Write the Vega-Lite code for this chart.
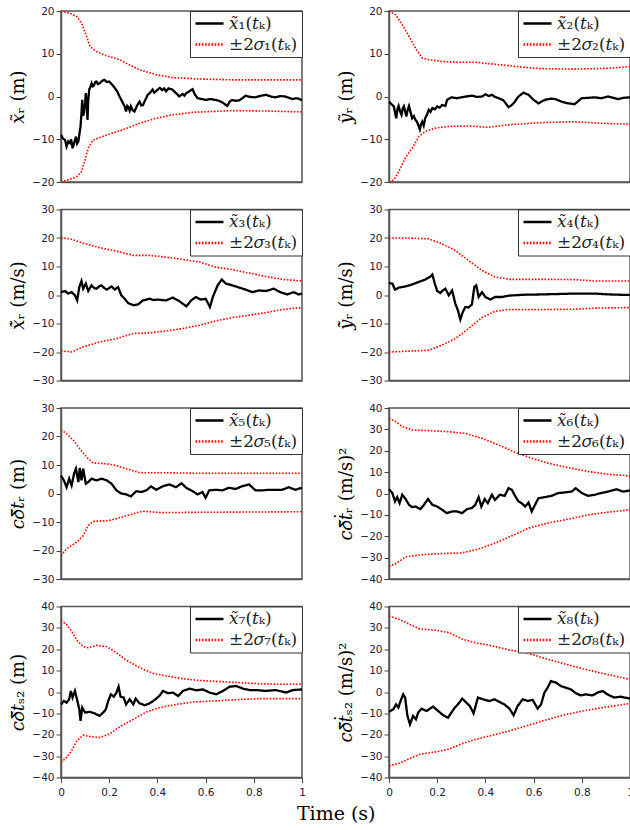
{
"$schema":"https://vega.github.io/schema/vega-lite/v6.json",
"padding":{"left":9,"top":5,"right":0,"bottom":4},
"background":"white",
"title":{"text":"Time (s)","orient":"bottom","anchor":"middle","font":"DejaVu Serif","fontSize":19,"fontWeight":"normal","color":"#000","offset":6,"dx":14},
"columns":2,
"spacing":{"row":27.5,"column":87},
"bounds":"flush",
"resolve":{"scale":{"color":"independent","strokeDash":"independent"}},
"datasets":{
"err":[
{"p":1,"t":0,"v":-9},{"p":1,"t":0.008,"v":-9.8},{"p":1,"t":0.017,"v":-10.2},{"p":1,"t":0.023,"v":-11.7},{"p":1,"t":0.03,"v":-10.5},{"p":1,"t":0.037,"v":-10.9},{"p":1,"t":0.042,"v":-10},{"p":1,"t":0.048,"v":-12.1},{"p":1,"t":0.055,"v":-10.8},{"p":1,"t":0.062,"v":-9.4},{"p":1,"t":0.067,"v":-11},{"p":1,"t":0.072,"v":-10.5},{"p":1,"t":0.081,"v":-7},{"p":1,"t":0.085,"v":-4},{"p":1,"t":0.088,"v":-0.8},{"p":1,"t":0.092,"v":-4.5},{"p":1,"t":0.095,"v":-3.9},{"p":1,"t":0.1,"v":-1.5},{"p":1,"t":0.103,"v":0.8},{"p":1,"t":0.107,"v":-2},{"p":1,"t":0.11,"v":-5.5},{"p":1,"t":0.113,"v":-1},{"p":1,"t":0.117,"v":1.6},{"p":1,"t":0.122,"v":2.2},{"p":1,"t":0.127,"v":3.1},{"p":1,"t":0.132,"v":2.4},{"p":1,"t":0.137,"v":2.6},{"p":1,"t":0.142,"v":3.4},{"p":1,"t":0.147,"v":3.5},{"p":1,"t":0.153,"v":2.9},{"p":1,"t":0.16,"v":3.1},{"p":1,"t":0.17,"v":3.6},{"p":1,"t":0.18,"v":3.9},{"p":1,"t":0.19,"v":3.4},{"p":1,"t":0.2,"v":3.5},{"p":1,"t":0.212,"v":2.8},{"p":1,"t":0.223,"v":2},{"p":1,"t":0.233,"v":1.2},{"p":1,"t":0.243,"v":0},{"p":1,"t":0.254,"v":-1.2},{"p":1,"t":0.264,"v":-2.3},{"p":1,"t":0.27,"v":-3.5},{"p":1,"t":0.275,"v":-2.2},{"p":1,"t":0.28,"v":-2.5},{"p":1,"t":0.285,"v":-3.3},{"p":1,"t":0.29,"v":-2.3},{"p":1,"t":0.297,"v":-3.2},{"p":1,"t":0.305,"v":-3.5},{"p":1,"t":0.315,"v":-2.2},{"p":1,"t":0.326,"v":-1.2},{"p":1,"t":0.333,"v":-2.1},{"p":1,"t":0.34,"v":-2},{"p":1,"t":0.35,"v":-0.8},{"p":1,"t":0.36,"v":0.4},{"p":1,"t":0.37,"v":0.9},{"p":1,"t":0.38,"v":1.6},{"p":1,"t":0.387,"v":0.9},{"p":1,"t":0.395,"v":1.3},{"p":1,"t":0.41,"v":2},{"p":1,"t":0.42,"v":1.5},{"p":1,"t":0.428,"v":1.9},{"p":1,"t":0.436,"v":1.2},{"p":1,"t":0.446,"v":1.9},{"p":1,"t":0.46,"v":1.7},{"p":1,"t":0.475,"v":0.9},{"p":1,"t":0.483,"v":0.5},{"p":1,"t":0.49,"v":0},{"p":1,"t":0.505,"v":0.6},{"p":1,"t":0.512,"v":0.2},{"p":1,"t":0.52,"v":0.8},{"p":1,"t":0.535,"v":1.3},{"p":1,"t":0.546,"v":1.7},{"p":1,"t":0.555,"v":0.5},{"p":1,"t":0.567,"v":-0.4},{"p":1,"t":0.585,"v":-0.6},{"p":1,"t":0.6,"v":-0.8},{"p":1,"t":0.62,"v":-0.6},{"p":1,"t":0.64,"v":-0.8},{"p":1,"t":0.655,"v":-1},{"p":1,"t":0.67,"v":-1.4},{"p":1,"t":0.69,"v":-2.2},{"p":1,"t":0.7,"v":-1.2},{"p":1,"t":0.71,"v":-0.8},{"p":1,"t":0.725,"v":-1},{"p":1,"t":0.74,"v":-0.9},{"p":1,"t":0.755,"v":-0.3},{"p":1,"t":0.766,"v":0.2},{"p":1,"t":0.785,"v":-0.1},{"p":1,"t":0.807,"v":-0.2},{"p":1,"t":0.825,"v":0.1},{"p":1,"t":0.85,"v":0.4},{"p":1,"t":0.87,"v":0},{"p":1,"t":0.89,"v":-0.2},{"p":1,"t":0.91,"v":0.1},{"p":1,"t":0.93,"v":0},{"p":1,"t":0.945,"v":-0.3},{"p":1,"t":0.96,"v":-0.6},{"p":1,"t":0.975,"v":-0.4},{"p":1,"t":0.986,"v":-0.5},{"p":1,"t":1,"v":-0.9},
{"p":2,"t":0,"v":-1.2},{"p":2,"t":0.01,"v":-1.8},{"p":2,"t":0.02,"v":-2.3},{"p":2,"t":0.03,"v":-5.1},{"p":2,"t":0.035,"v":-3},{"p":2,"t":0.04,"v":-2.2},{"p":2,"t":0.046,"v":-3.5},{"p":2,"t":0.052,"v":-4.3},{"p":2,"t":0.057,"v":-2.8},{"p":2,"t":0.062,"v":-2.3},{"p":2,"t":0.072,"v":-4.7},{"p":2,"t":0.078,"v":-3},{"p":2,"t":0.083,"v":-2.2},{"p":2,"t":0.09,"v":-3.8},{"p":2,"t":0.096,"v":-5.1},{"p":2,"t":0.103,"v":-4.6},{"p":2,"t":0.11,"v":-5.5},{"p":2,"t":0.116,"v":-5.9},{"p":2,"t":0.121,"v":-6.6},{"p":2,"t":0.128,"v":-7.7},{"p":2,"t":0.133,"v":-6.5},{"p":2,"t":0.138,"v":-5.9},{"p":2,"t":0.144,"v":-6.8},{"p":2,"t":0.15,"v":-5.1},{"p":2,"t":0.158,"v":-4.2},{"p":2,"t":0.165,"v":-3.1},{"p":2,"t":0.172,"v":-3.6},{"p":2,"t":0.18,"v":-2.7},{"p":2,"t":0.19,"v":-3},{"p":2,"t":0.2,"v":-2.3},{"p":2,"t":0.21,"v":-2.6},{"p":2,"t":0.22,"v":-2},{"p":2,"t":0.234,"v":-2.2},{"p":2,"t":0.241,"v":-0.8},{"p":2,"t":0.26,"v":-0.2},{"p":2,"t":0.28,"v":-0.4},{"p":2,"t":0.3,"v":-0.2},{"p":2,"t":0.32,"v":0},{"p":2,"t":0.344,"v":0.2},{"p":2,"t":0.365,"v":-0.1},{"p":2,"t":0.386,"v":0},{"p":2,"t":0.4,"v":0.5},{"p":2,"t":0.415,"v":0.1},{"p":2,"t":0.427,"v":0.4},{"p":2,"t":0.44,"v":-0.1},{"p":2,"t":0.455,"v":-0.4},{"p":2,"t":0.475,"v":-0.9},{"p":2,"t":0.496,"v":-2.5},{"p":2,"t":0.507,"v":-2.1},{"p":2,"t":0.517,"v":-1.6},{"p":2,"t":0.537,"v":0},{"p":2,"t":0.558,"v":0.9},{"p":2,"t":0.57,"v":0.6},{"p":2,"t":0.579,"v":0.4},{"p":2,"t":0.6,"v":-0.8},{"p":2,"t":0.62,"v":-1.6},{"p":2,"t":0.635,"v":-1.1},{"p":2,"t":0.647,"v":-0.8},{"p":2,"t":0.67,"v":-0.5},{"p":2,"t":0.69,"v":-0.6},{"p":2,"t":0.716,"v":-1.2},{"p":2,"t":0.744,"v":-1.6},{"p":2,"t":0.77,"v":-1.8},{"p":2,"t":0.785,"v":-1.1},{"p":2,"t":0.8,"v":-0.4},{"p":2,"t":0.83,"v":-0.3},{"p":2,"t":0.854,"v":-0.2},{"p":2,"t":0.88,"v":-0.4},{"p":2,"t":0.91,"v":0},{"p":2,"t":0.93,"v":-0.3},{"p":2,"t":0.95,"v":-0.6},{"p":2,"t":0.975,"v":-0.3},{"p":2,"t":1,"v":-0.2},
{"p":3,"t":0,"v":1},{"p":3,"t":0.017,"v":1.4},{"p":3,"t":0.03,"v":0.5},{"p":3,"t":0.044,"v":1},{"p":3,"t":0.058,"v":-0.1},{"p":3,"t":0.067,"v":-1.9},{"p":3,"t":0.076,"v":2.8},{"p":3,"t":0.085,"v":4.9},{"p":3,"t":0.092,"v":2.2},{"p":3,"t":0.103,"v":4},{"p":3,"t":0.113,"v":1.4},{"p":3,"t":0.127,"v":3.4},{"p":3,"t":0.137,"v":2.5},{"p":3,"t":0.147,"v":2.2},{"p":3,"t":0.158,"v":3},{"p":3,"t":0.168,"v":3.4},{"p":3,"t":0.18,"v":2.4},{"p":3,"t":0.19,"v":1.9},{"p":3,"t":0.21,"v":3},{"p":3,"t":0.223,"v":1.9},{"p":3,"t":0.237,"v":2.8},{"p":3,"t":0.25,"v":-0.1},{"p":3,"t":0.264,"v":-1.3},{"p":3,"t":0.278,"v":-2.8},{"p":3,"t":0.3,"v":-3.6},{"p":3,"t":0.32,"v":-3.3},{"p":3,"t":0.34,"v":-1.9},{"p":3,"t":0.367,"v":-1.3},{"p":3,"t":0.385,"v":-1.8},{"p":3,"t":0.4,"v":-1.6},{"p":3,"t":0.436,"v":-1.9},{"p":3,"t":0.464,"v":-0.9},{"p":3,"t":0.49,"v":-2.1},{"p":3,"t":0.52,"v":-4},{"p":3,"t":0.54,"v":-1.9},{"p":3,"t":0.56,"v":-0.7},{"p":3,"t":0.58,"v":-1.6},{"p":3,"t":0.6,"v":-1.3},{"p":3,"t":0.618,"v":-4.2},{"p":3,"t":0.63,"v":-0.7},{"p":3,"t":0.65,"v":3.4},{"p":3,"t":0.667,"v":5.4},{"p":3,"t":0.684,"v":4},{"p":3,"t":0.71,"v":3.4},{"p":3,"t":0.74,"v":2.6},{"p":3,"t":0.766,"v":1.9},{"p":3,"t":0.794,"v":1},{"p":3,"t":0.82,"v":1.6},{"p":3,"t":0.85,"v":1.4},{"p":3,"t":0.883,"v":2.2},{"p":3,"t":0.91,"v":1},{"p":3,"t":0.938,"v":0.2},{"p":3,"t":0.966,"v":1},{"p":3,"t":0.986,"v":0.2},{"p":3,"t":1,"v":0.5},
{"p":4,"t":0,"v":4.2},{"p":4,"t":0.014,"v":4},{"p":4,"t":0.025,"v":1.9},{"p":4,"t":0.041,"v":2.6},{"p":4,"t":0.069,"v":3},{"p":4,"t":0.096,"v":3.7},{"p":4,"t":0.124,"v":4.6},{"p":4,"t":0.15,"v":5.4},{"p":4,"t":0.172,"v":6.5},{"p":4,"t":0.18,"v":7.2},{"p":4,"t":0.19,"v":4},{"p":4,"t":0.2,"v":1.4},{"p":4,"t":0.213,"v":0.7},{"p":4,"t":0.223,"v":1.6},{"p":4,"t":0.234,"v":2.2},{"p":4,"t":0.248,"v":-0.1},{"p":4,"t":0.262,"v":1.6},{"p":4,"t":0.275,"v":-3},{"p":4,"t":0.286,"v":-5.4},{"p":4,"t":0.296,"v":-8.6},{"p":4,"t":0.306,"v":-6},{"p":4,"t":0.317,"v":-4.2},{"p":4,"t":0.33,"v":-4.4},{"p":4,"t":0.344,"v":-3.3},{"p":4,"t":0.354,"v":2.8},{"p":4,"t":0.362,"v":3.4},{"p":4,"t":0.372,"v":-0.7},{"p":4,"t":0.386,"v":1},{"p":4,"t":0.4,"v":-0.7},{"p":4,"t":0.42,"v":-1.6},{"p":4,"t":0.44,"v":-0.7},{"p":4,"t":0.468,"v":-0.7},{"p":4,"t":0.5,"v":-0.2},{"p":4,"t":0.565,"v":0.1},{"p":4,"t":0.634,"v":0.2},{"p":4,"t":0.77,"v":0.5},{"p":4,"t":0.854,"v":0.5},{"p":4,"t":0.91,"v":0.2},{"p":4,"t":1,"v":0},
{"p":5,"t":0,"v":6.3},{"p":5,"t":0.012,"v":4.6},{"p":5,"t":0.023,"v":2.2},{"p":5,"t":0.034,"v":5.2},{"p":5,"t":0.044,"v":2.8},{"p":5,"t":0.054,"v":6.9},{"p":5,"t":0.062,"v":8.7},{"p":5,"t":0.072,"v":4},{"p":5,"t":0.078,"v":9},{"p":5,"t":0.085,"v":4.6},{"p":5,"t":0.092,"v":8.7},{"p":5,"t":0.103,"v":3.4},{"p":5,"t":0.113,"v":4},{"p":5,"t":0.127,"v":5.2},{"p":5,"t":0.147,"v":4.6},{"p":5,"t":0.168,"v":5.2},{"p":5,"t":0.19,"v":4.6},{"p":5,"t":0.21,"v":3.4},{"p":5,"t":0.23,"v":1.1},{"p":5,"t":0.25,"v":0},{"p":5,"t":0.27,"v":-0.3},{"p":5,"t":0.29,"v":-1},{"p":5,"t":0.312,"v":0.8},{"p":5,"t":0.333,"v":0.5},{"p":5,"t":0.354,"v":1.1},{"p":5,"t":0.374,"v":2.5},{"p":5,"t":0.395,"v":1.3},{"p":5,"t":0.422,"v":2.5},{"p":5,"t":0.45,"v":3.2},{"p":5,"t":0.477,"v":2.2},{"p":5,"t":0.5,"v":3.6},{"p":5,"t":0.52,"v":2},{"p":5,"t":0.546,"v":0.8},{"p":5,"t":0.567,"v":-0.3},{"p":5,"t":0.587,"v":0.5},{"p":5,"t":0.6,"v":-1.5},{"p":5,"t":0.615,"v":1.1},{"p":5,"t":0.642,"v":1.3},{"p":5,"t":0.67,"v":1.1},{"p":5,"t":0.697,"v":2},{"p":5,"t":0.725,"v":1.6},{"p":5,"t":0.75,"v":2.5},{"p":5,"t":0.78,"v":3.2},{"p":5,"t":0.807,"v":1.1},{"p":5,"t":0.835,"v":1.1},{"p":5,"t":0.862,"v":1.3},{"p":5,"t":0.89,"v":1.3},{"p":5,"t":0.917,"v":1.3},{"p":5,"t":0.945,"v":2.2},{"p":5,"t":0.972,"v":1.3},{"p":5,"t":1,"v":2},
{"p":6,"t":0,"v":2},{"p":6,"t":0.014,"v":0.2},{"p":6,"t":0.025,"v":-3.7},{"p":6,"t":0.034,"v":-1.7},{"p":6,"t":0.044,"v":-4.5},{"p":6,"t":0.055,"v":-0.6},{"p":6,"t":0.069,"v":-2.6},{"p":6,"t":0.083,"v":-5.3},{"p":6,"t":0.096,"v":-6.4},{"p":6,"t":0.11,"v":-6.1},{"p":6,"t":0.13,"v":-7.3},{"p":6,"t":0.145,"v":-5.3},{"p":6,"t":0.162,"v":-2.6},{"p":6,"t":0.18,"v":-5.3},{"p":6,"t":0.2,"v":-6.1},{"p":6,"t":0.22,"v":-7.6},{"p":6,"t":0.24,"v":-9.2},{"p":6,"t":0.262,"v":-8.4},{"p":6,"t":0.282,"v":-8.4},{"p":6,"t":0.303,"v":-9.2},{"p":6,"t":0.324,"v":-7.3},{"p":6,"t":0.344,"v":-6.8},{"p":6,"t":0.358,"v":-5.3},{"p":6,"t":0.372,"v":-1.7},{"p":6,"t":0.383,"v":-6.1},{"p":6,"t":0.397,"v":-2.6},{"p":6,"t":0.41,"v":-4.5},{"p":6,"t":0.427,"v":-0.6},{"p":6,"t":0.44,"v":-3},{"p":6,"t":0.46,"v":-0.6},{"p":6,"t":0.48,"v":-1.1},{"p":6,"t":0.496,"v":2.5},{"p":6,"t":0.51,"v":1.7},{"p":6,"t":0.523,"v":-1.1},{"p":6,"t":0.537,"v":-3.7},{"p":6,"t":0.55,"v":-4.5},{"p":6,"t":0.565,"v":-6.1},{"p":6,"t":0.579,"v":-4.2},{"p":6,"t":0.592,"v":-8.4},{"p":6,"t":0.606,"v":-5.3},{"p":6,"t":0.62,"v":-2.2},{"p":6,"t":0.647,"v":-1.7},{"p":6,"t":0.675,"v":-1.1},{"p":6,"t":0.702,"v":0.2},{"p":6,"t":0.73,"v":0.5},{"p":6,"t":0.758,"v":0.9},{"p":6,"t":0.775,"v":2.5},{"p":6,"t":0.8,"v":0.2},{"p":6,"t":0.826,"v":-1.1},{"p":6,"t":0.854,"v":-0.6},{"p":6,"t":0.88,"v":0.2},{"p":6,"t":0.91,"v":0.9},{"p":6,"t":0.944,"v":2},{"p":6,"t":0.97,"v":0.9},{"p":6,"t":1,"v":1.4},
{"p":7,"t":0,"v":-5.8},{"p":7,"t":0.012,"v":-4.2},{"p":7,"t":0.023,"v":-5},{"p":7,"t":0.034,"v":-3.4},{"p":7,"t":0.041,"v":0.5},{"p":7,"t":0.048,"v":-2.6},{"p":7,"t":0.058,"v":0.5},{"p":7,"t":0.068,"v":-4.2},{"p":7,"t":0.076,"v":-8.1},{"p":7,"t":0.081,"v":-13.5},{"p":7,"t":0.088,"v":-7.3},{"p":7,"t":0.1,"v":-9.6},{"p":7,"t":0.12,"v":-9.3},{"p":7,"t":0.14,"v":-10},{"p":7,"t":0.16,"v":-11.2},{"p":7,"t":0.175,"v":-9.6},{"p":7,"t":0.186,"v":-8.1},{"p":7,"t":0.196,"v":-4.2},{"p":7,"t":0.207,"v":-1.1},{"p":7,"t":0.219,"v":-2.2},{"p":7,"t":0.23,"v":-0.3},{"p":7,"t":0.239,"v":2.5},{"p":7,"t":0.247,"v":-2.2},{"p":7,"t":0.26,"v":-2.6},{"p":7,"t":0.27,"v":-5.8},{"p":7,"t":0.285,"v":-3.4},{"p":7,"t":0.3,"v":-5.8},{"p":7,"t":0.31,"v":-3.1},{"p":7,"t":0.326,"v":-5.3},{"p":7,"t":0.348,"v":-6.2},{"p":7,"t":0.368,"v":-5.3},{"p":7,"t":0.389,"v":-3.7},{"p":7,"t":0.41,"v":-1.6},{"p":7,"t":0.423,"v":0.5},{"p":7,"t":0.444,"v":-0.6},{"p":7,"t":0.465,"v":-0.3},{"p":7,"t":0.486,"v":-1.9},{"p":7,"t":0.506,"v":0.5},{"p":7,"t":0.534,"v":1.6},{"p":7,"t":0.561,"v":0.8},{"p":7,"t":0.589,"v":1.2},{"p":7,"t":0.617,"v":-0.3},{"p":7,"t":0.644,"v":-1.1},{"p":7,"t":0.672,"v":0.5},{"p":7,"t":0.7,"v":2.5},{"p":7,"t":0.727,"v":2.8},{"p":7,"t":0.755,"v":1.6},{"p":7,"t":0.782,"v":0.9},{"p":7,"t":0.81,"v":0.9},{"p":7,"t":0.85,"v":0.5},{"p":7,"t":0.892,"v":0.9},{"p":7,"t":0.934,"v":-0.3},{"p":7,"t":0.961,"v":0.9},{"p":7,"t":1,"v":1.2},
{"p":8,"t":0,"v":-9.3},{"p":8,"t":0.018,"v":-8.1},{"p":8,"t":0.029,"v":-5.8},{"p":8,"t":0.039,"v":-7.3},{"p":8,"t":0.048,"v":-4.2},{"p":8,"t":0.059,"v":-1.1},{"p":8,"t":0.067,"v":-2.6},{"p":8,"t":0.076,"v":-10.9},{"p":8,"t":0.087,"v":-15.1},{"p":8,"t":0.1,"v":-11.2},{"p":8,"t":0.112,"v":-12.8},{"p":8,"t":0.121,"v":-9.6},{"p":8,"t":0.135,"v":-7.8},{"p":8,"t":0.156,"v":-8.9},{"p":8,"t":0.183,"v":-6.8},{"p":8,"t":0.204,"v":-8.9},{"p":8,"t":0.225,"v":-10.9},{"p":8,"t":0.245,"v":-12},{"p":8,"t":0.259,"v":-9.6},{"p":8,"t":0.273,"v":-7.3},{"p":8,"t":0.286,"v":-5.8},{"p":8,"t":0.304,"v":-3.1},{"p":8,"t":0.321,"v":-5},{"p":8,"t":0.335,"v":-6.5},{"p":8,"t":0.351,"v":-10},{"p":8,"t":0.369,"v":-2.6},{"p":8,"t":0.39,"v":-3.4},{"p":8,"t":0.417,"v":-4.2},{"p":8,"t":0.438,"v":-3.4},{"p":8,"t":0.459,"v":-4.7},{"p":8,"t":0.479,"v":-5.8},{"p":8,"t":0.5,"v":-7.8},{"p":8,"t":0.517,"v":-10.9},{"p":8,"t":0.534,"v":-6.5},{"p":8,"t":0.555,"v":-3.4},{"p":8,"t":0.576,"v":-4.2},{"p":8,"t":0.596,"v":-3.7},{"p":8,"t":0.617,"v":-7.8},{"p":8,"t":0.631,"v":-5.8},{"p":8,"t":0.645,"v":-0.3},{"p":8,"t":0.658,"v":2},{"p":8,"t":0.672,"v":5.1},{"p":8,"t":0.693,"v":4.4},{"p":8,"t":0.713,"v":2.8},{"p":8,"t":0.734,"v":2},{"p":8,"t":0.755,"v":1.2},{"p":8,"t":0.776,"v":-0.6},{"p":8,"t":0.796,"v":-1.6},{"p":8,"t":0.817,"v":-1.1},{"p":8,"t":0.844,"v":-1.6},{"p":8,"t":0.865,"v":-0.3},{"p":8,"t":0.886,"v":0.5},{"p":8,"t":0.906,"v":-1.1},{"p":8,"t":0.934,"v":-2.6},{"p":8,"t":0.961,"v":-2.2},{"p":8,"t":1,"v":-3.1}
],
"bnd":[
{"p":1,"s":"u","t":0,"v":20},{"p":1,"s":"u","t":0.04,"v":19.4},{"p":1,"s":"u","t":0.065,"v":18.7},{"p":1,"s":"u","t":0.085,"v":17.2},{"p":1,"s":"u","t":0.106,"v":14.1},{"p":1,"s":"u","t":0.12,"v":11.7},{"p":1,"s":"u","t":0.147,"v":10.5},{"p":1,"s":"u","t":0.19,"v":9.5},{"p":1,"s":"u","t":0.245,"v":8.6},{"p":1,"s":"u","t":0.27,"v":7.8},{"p":1,"s":"u","t":0.326,"v":6.25},{"p":1,"s":"u","t":0.395,"v":5.1},{"p":1,"s":"u","t":0.46,"v":4.45},{"p":1,"s":"u","t":0.57,"v":4.1},{"p":1,"s":"u","t":0.71,"v":3.9},{"p":1,"s":"u","t":1,"v":3.9},
{"p":1,"s":"l","t":0,"v":-20},{"p":1,"s":"l","t":0.04,"v":-19.3},{"p":1,"s":"l","t":0.065,"v":-18.75},{"p":1,"s":"l","t":0.085,"v":-17.6},{"p":1,"s":"l","t":0.1,"v":-14.8},{"p":1,"s":"l","t":0.113,"v":-12.1},{"p":1,"s":"l","t":0.133,"v":-10.2},{"p":1,"s":"l","t":0.19,"v":-9},{"p":1,"s":"l","t":0.257,"v":-7.8},{"p":1,"s":"l","t":0.326,"v":-6.25},{"p":1,"s":"l","t":0.395,"v":-5.1},{"p":1,"s":"l","t":0.46,"v":-4.3},{"p":1,"s":"l","t":0.546,"v":-3.7},{"p":1,"s":"l","t":0.71,"v":-3.3},{"p":1,"s":"l","t":0.85,"v":-3.4},{"p":1,"s":"l","t":1,"v":-3.6},
{"p":2,"s":"u","t":0,"v":20},{"p":2,"s":"u","t":0.028,"v":19.1},{"p":2,"s":"u","t":0.055,"v":16.8},{"p":2,"s":"u","t":0.083,"v":14.1},{"p":2,"s":"u","t":0.11,"v":11.3},{"p":2,"s":"u","t":0.138,"v":9},{"p":2,"s":"u","t":0.165,"v":8.6},{"p":2,"s":"u","t":0.22,"v":8.2},{"p":2,"s":"u","t":0.29,"v":8},{"p":2,"s":"u","t":0.36,"v":8},{"p":2,"s":"u","t":0.41,"v":7.7},{"p":2,"s":"u","t":0.5,"v":7.2},{"p":2,"s":"u","t":0.565,"v":6.8},{"p":2,"s":"u","t":0.634,"v":6.5},{"p":2,"s":"u","t":0.77,"v":6.4},{"p":2,"s":"u","t":0.91,"v":6.6},{"p":2,"s":"u","t":1,"v":7},
{"p":2,"s":"l","t":0,"v":-20},{"p":2,"s":"l","t":0.02,"v":-19.5},{"p":2,"s":"l","t":0.04,"v":-17.6},{"p":2,"s":"l","t":0.07,"v":-14.1},{"p":2,"s":"l","t":0.096,"v":-12.1},{"p":2,"s":"l","t":0.124,"v":-9.4},{"p":2,"s":"l","t":0.15,"v":-8.2},{"p":2,"s":"l","t":0.19,"v":-7.4},{"p":2,"s":"l","t":0.25,"v":-7},{"p":2,"s":"l","t":0.33,"v":-6.9},{"p":2,"s":"l","t":0.41,"v":-7.2},{"p":2,"s":"l","t":0.5,"v":-6.6},{"p":2,"s":"l","t":0.634,"v":-6.1},{"p":2,"s":"l","t":0.77,"v":-5.9},{"p":2,"s":"l","t":0.88,"v":-6.25},{"p":2,"s":"l","t":1,"v":-6.5},
{"p":3,"s":"u","t":0,"v":20.1},{"p":3,"s":"u","t":0.037,"v":19.7},{"p":3,"s":"u","t":0.092,"v":18.2},{"p":3,"s":"u","t":0.16,"v":16.6},{"p":3,"s":"u","t":0.23,"v":15.4},{"p":3,"s":"u","t":0.3,"v":13.9},{"p":3,"s":"u","t":0.367,"v":13.9},{"p":3,"s":"u","t":0.436,"v":13.3},{"p":3,"s":"u","t":0.505,"v":12.5},{"p":3,"s":"u","t":0.574,"v":11.6},{"p":3,"s":"u","t":0.642,"v":9.8},{"p":3,"s":"u","t":0.71,"v":8.9},{"p":3,"s":"u","t":0.78,"v":7.7},{"p":3,"s":"u","t":0.85,"v":6.5},{"p":3,"s":"u","t":0.917,"v":5.5},{"p":3,"s":"u","t":1,"v":4.9},
{"p":3,"s":"l","t":0,"v":-19.6},{"p":3,"s":"l","t":0.044,"v":-20},{"p":3,"s":"l","t":0.092,"v":-18.2},{"p":3,"s":"l","t":0.16,"v":-16.5},{"p":3,"s":"l","t":0.23,"v":-15.3},{"p":3,"s":"l","t":0.3,"v":-13.5},{"p":3,"s":"l","t":0.367,"v":-13.3},{"p":3,"s":"l","t":0.436,"v":-12.6},{"p":3,"s":"l","t":0.505,"v":-11.8},{"p":3,"s":"l","t":0.574,"v":-10.6},{"p":3,"s":"l","t":0.642,"v":-9.1},{"p":3,"s":"l","t":0.71,"v":-7.9},{"p":3,"s":"l","t":0.78,"v":-7.1},{"p":3,"s":"l","t":0.85,"v":-6.2},{"p":3,"s":"l","t":0.917,"v":-5.1},{"p":3,"s":"l","t":1,"v":-4.4},
{"p":4,"s":"u","t":0,"v":20},{"p":4,"s":"u","t":0.083,"v":20},{"p":4,"s":"u","t":0.165,"v":19.7},{"p":4,"s":"u","t":0.22,"v":18},{"p":4,"s":"u","t":0.275,"v":15.6},{"p":4,"s":"u","t":0.33,"v":12.1},{"p":4,"s":"u","t":0.386,"v":8.6},{"p":4,"s":"u","t":0.44,"v":6.3},{"p":4,"s":"u","t":0.5,"v":5.5},{"p":4,"s":"u","t":0.634,"v":5.5},{"p":4,"s":"u","t":0.77,"v":5.4},{"p":4,"s":"u","t":0.854,"v":4.9},{"p":4,"s":"u","t":1,"v":4.9},
{"p":4,"s":"l","t":0,"v":-20},{"p":4,"s":"l","t":0.165,"v":-19.4},{"p":4,"s":"l","t":0.22,"v":-17.6},{"p":4,"s":"l","t":0.275,"v":-15.3},{"p":4,"s":"l","t":0.33,"v":-11.8},{"p":4,"s":"l","t":0.386,"v":-7.9},{"p":4,"s":"l","t":0.44,"v":-5.7},{"p":4,"s":"l","t":0.5,"v":-5.1},{"p":4,"s":"l","t":0.634,"v":-5.1},{"p":4,"s":"l","t":0.77,"v":-5},{"p":4,"s":"l","t":0.854,"v":-4.6},{"p":4,"s":"l","t":1,"v":-4.4},
{"p":5,"s":"u","t":0,"v":22.4},{"p":5,"s":"u","t":0.023,"v":21},{"p":5,"s":"u","t":0.05,"v":18.8},{"p":5,"s":"u","t":0.078,"v":15.7},{"p":5,"s":"u","t":0.106,"v":12.8},{"p":5,"s":"u","t":0.133,"v":10.7},{"p":5,"s":"u","t":0.19,"v":10.4},{"p":5,"s":"u","t":0.23,"v":9.8},{"p":5,"s":"u","t":0.27,"v":8.7},{"p":5,"s":"u","t":0.326,"v":7.3},{"p":5,"s":"u","t":0.41,"v":7.3},{"p":5,"s":"u","t":0.574,"v":7.1},{"p":5,"s":"u","t":1,"v":7.1},
{"p":5,"s":"l","t":0,"v":-21.8},{"p":5,"s":"l","t":0.023,"v":-19.4},{"p":5,"s":"l","t":0.065,"v":-17.1},{"p":5,"s":"l","t":0.092,"v":-14.8},{"p":5,"s":"l","t":0.113,"v":-11.2},{"p":5,"s":"l","t":0.133,"v":-9.8},{"p":5,"s":"l","t":0.2,"v":-9.5},{"p":5,"s":"l","t":0.243,"v":-8.5},{"p":5,"s":"l","t":0.3,"v":-7.1},{"p":5,"s":"l","t":0.34,"v":-6.2},{"p":5,"s":"l","t":0.41,"v":-6.7},{"p":5,"s":"l","t":0.574,"v":-6.6},{"p":5,"s":"l","t":1,"v":-6.4},
{"p":6,"s":"u","t":0,"v":35.1},{"p":6,"s":"u","t":0.028,"v":33.6},{"p":6,"s":"u","t":0.055,"v":31.3},{"p":6,"s":"u","t":0.096,"v":29.7},{"p":6,"s":"u","t":0.165,"v":29.4},{"p":6,"s":"u","t":0.248,"v":28.9},{"p":6,"s":"u","t":0.317,"v":28.1},{"p":6,"s":"u","t":0.386,"v":25.8},{"p":6,"s":"u","t":0.455,"v":22.7},{"p":6,"s":"u","t":0.523,"v":19.3},{"p":6,"s":"u","t":0.592,"v":16.5},{"p":6,"s":"u","t":0.66,"v":14.2},{"p":6,"s":"u","t":0.744,"v":12.1},{"p":6,"s":"u","t":0.826,"v":10.3},{"p":6,"s":"u","t":0.91,"v":9},{"p":6,"s":"u","t":1,"v":8.2},
{"p":6,"s":"l","t":0,"v":-34.1},{"p":6,"s":"l","t":0.028,"v":-32.8},{"p":6,"s":"l","t":0.069,"v":-29.7},{"p":6,"s":"l","t":0.138,"v":-28.6},{"p":6,"s":"l","t":0.22,"v":-28.1},{"p":6,"s":"l","t":0.3,"v":-27.8},{"p":6,"s":"l","t":0.372,"v":-26},{"p":6,"s":"l","t":0.44,"v":-23.2},{"p":6,"s":"l","t":0.51,"v":-19.8},{"p":6,"s":"l","t":0.58,"v":-16.2},{"p":6,"s":"l","t":0.66,"v":-13.8},{"p":6,"s":"l","t":0.744,"v":-12},{"p":6,"s":"l","t":0.826,"v":-10},{"p":6,"s":"l","t":0.91,"v":-8.7},{"p":6,"s":"l","t":1,"v":-7.6},
{"p":7,"s":"u","t":0,"v":33.4},{"p":7,"s":"u","t":0.023,"v":31.6},{"p":7,"s":"u","t":0.044,"v":28.5},{"p":7,"s":"u","t":0.065,"v":24.3},{"p":7,"s":"u","t":0.092,"v":21.2},{"p":7,"s":"u","t":0.113,"v":20.7},{"p":7,"s":"u","t":0.147,"v":21.8},{"p":7,"s":"u","t":0.19,"v":21.2},{"p":7,"s":"u","t":0.23,"v":18.4},{"p":7,"s":"u","t":0.27,"v":14.9},{"p":7,"s":"u","t":0.326,"v":11.4},{"p":7,"s":"u","t":0.382,"v":8.7},{"p":7,"s":"u","t":0.437,"v":7.5},{"p":7,"s":"u","t":0.506,"v":6.2},{"p":7,"s":"u","t":0.575,"v":5.4},{"p":7,"s":"u","t":0.686,"v":4.7},{"p":7,"s":"u","t":0.796,"v":4},{"p":7,"s":"u","t":0.906,"v":3.6},{"p":7,"s":"u","t":1,"v":3.6},
{"p":7,"s":"l","t":0,"v":-33},{"p":7,"s":"l","t":0.023,"v":-30.6},{"p":7,"s":"l","t":0.044,"v":-27.5},{"p":7,"s":"l","t":0.065,"v":-22.9},{"p":7,"s":"l","t":0.092,"v":-20.2},{"p":7,"s":"l","t":0.12,"v":-20.8},{"p":7,"s":"l","t":0.16,"v":-21.3},{"p":7,"s":"l","t":0.2,"v":-19.8},{"p":7,"s":"l","t":0.244,"v":-16.2},{"p":7,"s":"l","t":0.3,"v":-12.8},{"p":7,"s":"l","t":0.355,"v":-9.3},{"p":7,"s":"l","t":0.41,"v":-7.3},{"p":7,"s":"l","t":0.479,"v":-5.8},{"p":7,"s":"l","t":0.548,"v":-4.7},{"p":7,"s":"l","t":0.63,"v":-4.2},{"p":7,"s":"l","t":0.713,"v":-3.7},{"p":7,"s":"l","t":0.823,"v":-3.1},{"p":7,"s":"l","t":1,"v":-3.1},
{"p":8,"s":"u","t":0,"v":35.5},{"p":8,"s":"u","t":0.045,"v":33.9},{"p":8,"s":"u","t":0.087,"v":31.6},{"p":8,"s":"u","t":0.128,"v":29.5},{"p":8,"s":"u","t":0.197,"v":28.9},{"p":8,"s":"u","t":0.25,"v":27.7},{"p":8,"s":"u","t":0.307,"v":24.6},{"p":8,"s":"u","t":0.362,"v":23},{"p":8,"s":"u","t":0.431,"v":21.5},{"p":8,"s":"u","t":0.5,"v":19.6},{"p":8,"s":"u","t":0.569,"v":18.4},{"p":8,"s":"u","t":0.638,"v":16},{"p":8,"s":"u","t":0.72,"v":13.4},{"p":8,"s":"u","t":0.803,"v":10.9},{"p":8,"s":"u","t":0.886,"v":8.7},{"p":8,"s":"u","t":1,"v":5.9},
{"p":8,"s":"l","t":0,"v":-34.5},{"p":8,"s":"l","t":0.045,"v":-33.3},{"p":8,"s":"l","t":0.087,"v":-31.1},{"p":8,"s":"l","t":0.128,"v":-29.1},{"p":8,"s":"l","t":0.197,"v":-28},{"p":8,"s":"l","t":0.25,"v":-26.7},{"p":8,"s":"l","t":0.307,"v":-24},{"p":8,"s":"l","t":0.362,"v":-22.1},{"p":8,"s":"l","t":0.431,"v":-20.2},{"p":8,"s":"l","t":0.5,"v":-18.2},{"p":8,"s":"l","t":0.569,"v":-15.9},{"p":8,"s":"l","t":0.638,"v":-13.5},{"p":8,"s":"l","t":0.72,"v":-10.9},{"p":8,"s":"l","t":0.803,"v":-8.9},{"p":8,"s":"l","t":0.886,"v":-7.3},{"p":8,"s":"l","t":1,"v":-5.4}
]
},
"concat":[
{"width":241,"height":171,
 "encoding":{
  "x":{"field":"t","type":"quantitative","scale":{"domain":[0,1],"nice":false},"axis":{"labels":false,"ticks":false,"title":null}},
  "y":{"field":"v","type":"quantitative","scale":{"domain":[-20,20],"nice":false},"axis":{"values":[-20,-10,0,10,20],"labelOverlap":false,"labelSeparation":0,"title":"𝑥̃ᵣ (m)"}}},
 "layer":[
 {"data":{"name":"bnd"},"transform":[{"filter":"datum.p==1"}],"mark":{"type":"line","strokeWidth":1.6},
  "encoding":{"detail":{"field":"s"},
   "color":{"datum":"b","type":"nominal","title":null,"scale":{"domain":["e","b"],"range":["#000000","#ff0000"]},"legend":{"labelExpr":"datum.value=='e'?'𝑥̃₁(𝑡ₖ)':'±2𝜎₁(𝑡ₖ)'"}},
   "strokeDash":{"datum":"b","type":"nominal","title":null,"scale":{"domain":["e","b"],"range":[[1,0],[1.6,1.6]]}}}},
 {"data":{"name":"err"},"transform":[{"filter":"datum.p==1"}],"mark":{"type":"line","strokeWidth":2.3},
  "encoding":{"color":{"datum":"e","type":"nominal"},"strokeDash":{"datum":"e","type":"nominal"}}}
]},
{"width":241,"height":171,
 "encoding":{
  "x":{"field":"t","type":"quantitative","scale":{"domain":[0,1],"nice":false},"axis":{"labels":false,"ticks":false,"title":null}},
  "y":{"field":"v","type":"quantitative","scale":{"domain":[-20,20],"nice":false},"axis":{"values":[-20,-10,0,10,20],"labelOverlap":false,"labelSeparation":0,"title":"𝑦̃ᵣ (m)"}}},
 "layer":[
 {"data":{"name":"bnd"},"transform":[{"filter":"datum.p==2"}],"mark":{"type":"line","strokeWidth":1.6},
  "encoding":{"detail":{"field":"s"},
   "color":{"datum":"b","type":"nominal","title":null,"scale":{"domain":["e","b"],"range":["#000000","#ff0000"]},"legend":{"labelExpr":"datum.value=='e'?'𝑥̃₂(𝑡ₖ)':'±2𝜎₂(𝑡ₖ)'"}},
   "strokeDash":{"datum":"b","type":"nominal","title":null,"scale":{"domain":["e","b"],"range":[[1,0],[1.6,1.6]]}}}},
 {"data":{"name":"err"},"transform":[{"filter":"datum.p==2"}],"mark":{"type":"line","strokeWidth":2.3},
  "encoding":{"color":{"datum":"e","type":"nominal"},"strokeDash":{"datum":"e","type":"nominal"}}}
]},
{"width":241,"height":171,
 "encoding":{
  "x":{"field":"t","type":"quantitative","scale":{"domain":[0,1],"nice":false},"axis":{"labels":false,"ticks":false,"title":null}},
  "y":{"field":"v","type":"quantitative","scale":{"domain":[-30,30],"nice":false},"axis":{"values":[-30,-20,-10,0,10,20,30],"labelOverlap":false,"labelSeparation":0,"title":"𝑥̇̃ᵣ (m/s)"}}},
 "layer":[
 {"data":{"name":"bnd"},"transform":[{"filter":"datum.p==3"}],"mark":{"type":"line","strokeWidth":1.6},
  "encoding":{"detail":{"field":"s"},
   "color":{"datum":"b","type":"nominal","title":null,"scale":{"domain":["e","b"],"range":["#000000","#ff0000"]},"legend":{"labelExpr":"datum.value=='e'?'𝑥̃₃(𝑡ₖ)':'±2𝜎₃(𝑡ₖ)'"}},
   "strokeDash":{"datum":"b","type":"nominal","title":null,"scale":{"domain":["e","b"],"range":[[1,0],[1.6,1.6]]}}}},
 {"data":{"name":"err"},"transform":[{"filter":"datum.p==3"}],"mark":{"type":"line","strokeWidth":2.3},
  "encoding":{"color":{"datum":"e","type":"nominal"},"strokeDash":{"datum":"e","type":"nominal"}}}
]},
{"width":241,"height":171,
 "encoding":{
  "x":{"field":"t","type":"quantitative","scale":{"domain":[0,1],"nice":false},"axis":{"labels":false,"ticks":false,"title":null}},
  "y":{"field":"v","type":"quantitative","scale":{"domain":[-30,30],"nice":false},"axis":{"values":[-30,-20,-10,0,10,20,30],"labelOverlap":false,"labelSeparation":0,"title":"𝑦̇̃ᵣ (m/s)"}}},
 "layer":[
 {"data":{"name":"bnd"},"transform":[{"filter":"datum.p==4"}],"mark":{"type":"line","strokeWidth":1.6},
  "encoding":{"detail":{"field":"s"},
   "color":{"datum":"b","type":"nominal","title":null,"scale":{"domain":["e","b"],"range":["#000000","#ff0000"]},"legend":{"labelExpr":"datum.value=='e'?'𝑥̃₄(𝑡ₖ)':'±2𝜎₄(𝑡ₖ)'"}},
   "strokeDash":{"datum":"b","type":"nominal","title":null,"scale":{"domain":["e","b"],"range":[[1,0],[1.6,1.6]]}}}},
 {"data":{"name":"err"},"transform":[{"filter":"datum.p==4"}],"mark":{"type":"line","strokeWidth":2.3},
  "encoding":{"color":{"datum":"e","type":"nominal"},"strokeDash":{"datum":"e","type":"nominal"}}}
]},
{"width":241,"height":171,
 "encoding":{
  "x":{"field":"t","type":"quantitative","scale":{"domain":[0,1],"nice":false},"axis":{"labels":false,"ticks":false,"title":null}},
  "y":{"field":"v","type":"quantitative","scale":{"domain":[-30,30],"nice":false},"axis":{"values":[-30,-20,-10,0,10,20,30],"labelOverlap":false,"labelSeparation":0,"title":"𝑐𝛿̃𝑡ᵣ (m)"}}},
 "layer":[
 {"data":{"name":"bnd"},"transform":[{"filter":"datum.p==5"}],"mark":{"type":"line","strokeWidth":1.6},
  "encoding":{"detail":{"field":"s"},
   "color":{"datum":"b","type":"nominal","title":null,"scale":{"domain":["e","b"],"range":["#000000","#ff0000"]},"legend":{"labelExpr":"datum.value=='e'?'𝑥̃₅(𝑡ₖ)':'±2𝜎₅(𝑡ₖ)'"}},
   "strokeDash":{"datum":"b","type":"nominal","title":null,"scale":{"domain":["e","b"],"range":[[1,0],[1.6,1.6]]}}}},
 {"data":{"name":"err"},"transform":[{"filter":"datum.p==5"}],"mark":{"type":"line","strokeWidth":2.3},
  "encoding":{"color":{"datum":"e","type":"nominal"},"strokeDash":{"datum":"e","type":"nominal"}}}
]},
{"width":241,"height":171,
 "encoding":{
  "x":{"field":"t","type":"quantitative","scale":{"domain":[0,1],"nice":false},"axis":{"labels":false,"ticks":false,"title":null}},
  "y":{"field":"v","type":"quantitative","scale":{"domain":[-40,40],"nice":false},"axis":{"values":[-40,-30,-20,-10,0,10,20,30,40],"labelOverlap":false,"labelSeparation":0,"title":"𝑐𝛿̃𝑡̇ᵣ (m/s)²"}}},
 "layer":[
 {"data":{"name":"bnd"},"transform":[{"filter":"datum.p==6"}],"mark":{"type":"line","strokeWidth":1.6},
  "encoding":{"detail":{"field":"s"},
   "color":{"datum":"b","type":"nominal","title":null,"scale":{"domain":["e","b"],"range":["#000000","#ff0000"]},"legend":{"labelExpr":"datum.value=='e'?'𝑥̃₆(𝑡ₖ)':'±2𝜎₆(𝑡ₖ)'"}},
   "strokeDash":{"datum":"b","type":"nominal","title":null,"scale":{"domain":["e","b"],"range":[[1,0],[1.6,1.6]]}}}},
 {"data":{"name":"err"},"transform":[{"filter":"datum.p==6"}],"mark":{"type":"line","strokeWidth":2.3},
  "encoding":{"color":{"datum":"e","type":"nominal"},"strokeDash":{"datum":"e","type":"nominal"}}}
]},
{"width":241,"height":171,
 "encoding":{
  "x":{"field":"t","type":"quantitative","scale":{"domain":[0,1],"nice":false},"axis":{"values":[0,0.2,0.4,0.6,0.8,1],"format":"~g","labelOverlap":false,"title":null}},
  "y":{"field":"v","type":"quantitative","scale":{"domain":[-40,40],"nice":false},"axis":{"values":[-40,-30,-20,-10,0,10,20,30,40],"labelOverlap":false,"labelSeparation":0,"title":"𝑐𝛿̃𝑡ₛ₂ (m)"}}},
 "layer":[
 {"data":{"name":"bnd"},"transform":[{"filter":"datum.p==7"}],"mark":{"type":"line","strokeWidth":1.6},
  "encoding":{"detail":{"field":"s"},
   "color":{"datum":"b","type":"nominal","title":null,"scale":{"domain":["e","b"],"range":["#000000","#ff0000"]},"legend":{"labelExpr":"datum.value=='e'?'𝑥̃₇(𝑡ₖ)':'±2𝜎₇(𝑡ₖ)'"}},
   "strokeDash":{"datum":"b","type":"nominal","title":null,"scale":{"domain":["e","b"],"range":[[1,0],[1.6,1.6]]}}}},
 {"data":{"name":"err"},"transform":[{"filter":"datum.p==7"}],"mark":{"type":"line","strokeWidth":2.3},
  "encoding":{"color":{"datum":"e","type":"nominal"},"strokeDash":{"datum":"e","type":"nominal"}}}
]},
{"width":241,"height":171,
 "encoding":{
  "x":{"field":"t","type":"quantitative","scale":{"domain":[0,1],"nice":false},"axis":{"values":[0,0.2,0.4,0.6,0.8,1],"format":"~g","labelOverlap":false,"title":null}},
  "y":{"field":"v","type":"quantitative","scale":{"domain":[-40,40],"nice":false},"axis":{"values":[-40,-30,-20,-10,0,10,20,30,40],"labelOverlap":false,"labelSeparation":0,"title":"𝑐𝛿̃𝑡̇ₛ₂ (m/s)²"}}},
 "layer":[
 {"data":{"name":"bnd"},"transform":[{"filter":"datum.p==8"}],"mark":{"type":"line","strokeWidth":1.6},
  "encoding":{"detail":{"field":"s"},
   "color":{"datum":"b","type":"nominal","title":null,"scale":{"domain":["e","b"],"range":["#000000","#ff0000"]},"legend":{"labelExpr":"datum.value=='e'?'𝑥̃₈(𝑡ₖ)':'±2𝜎₈(𝑡ₖ)'"}},
   "strokeDash":{"datum":"b","type":"nominal","title":null,"scale":{"domain":["e","b"],"range":[[1,0],[1.6,1.6]]}}}},
 {"data":{"name":"err"},"transform":[{"filter":"datum.p==8"}],"mark":{"type":"line","strokeWidth":2.3},
  "encoding":{"color":{"datum":"e","type":"nominal"},"strokeDash":{"datum":"e","type":"nominal"}}}
]}
],
"config":{
 "view":{"stroke":"#555555","strokeWidth":1.5},
 "axis":{"grid":false,"domainColor":"#555555","domainWidth":1.5,"tickColor":"#444444","tickSize":5,"tickWidth":1,"labelFont":"DejaVu Sans","labelFontSize":10.5,"labelColor":"#202040","labelPadding":2,"labelOverlap":false,"labelBound":false,"labelFlush":false,"titleFont":"DejaVu Serif","titleFontSize":18,"titleFontWeight":"normal","titleColor":"#000000","titlePadding":4},
 "axisX":{"labelPadding":5},
 "legend":{"orient":"top-right","offset":0,"strokeColor":"#333333","fillColor":"#ffffff","padding":4,"labelFont":"DejaVu Serif","labelFontSize":17,"labelColor":"#222222","symbolType":"M-1,0H3","symbolSize":196,"symbolStrokeWidth":2.5,"rowPadding":3,"labelOffset":18,"labelLimit":200,"cornerRadius":0}
}
}
